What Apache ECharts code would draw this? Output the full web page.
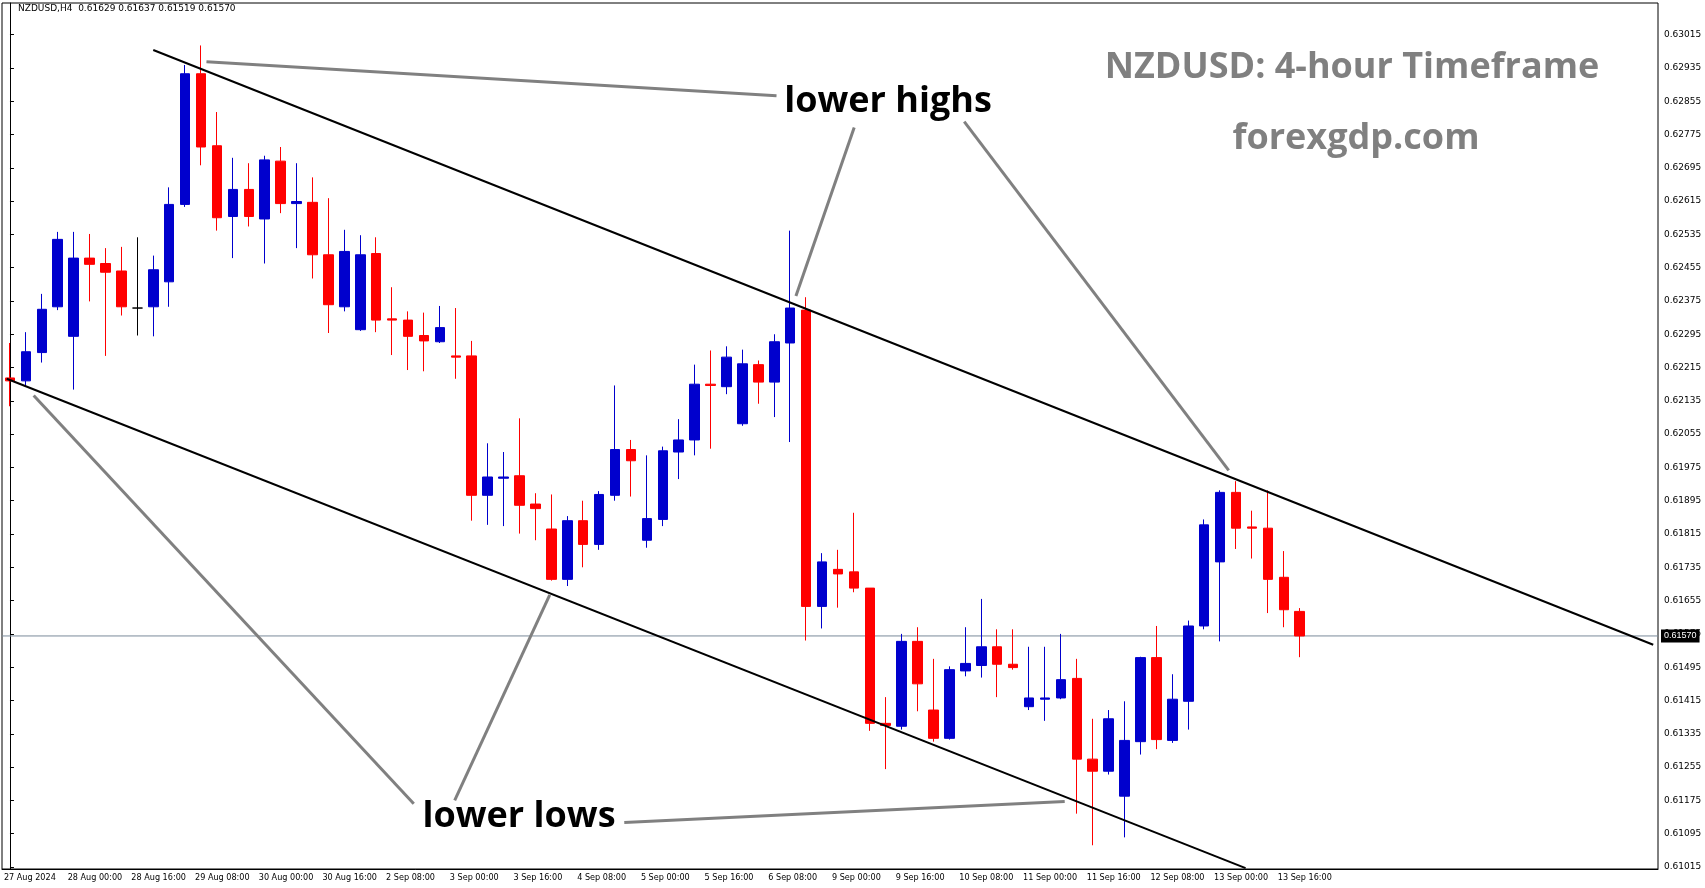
<!DOCTYPE html>
<html><head><meta charset="utf-8">
<script src="https://cdn.jsdelivr.net/npm/echarts@6/dist/echarts.min.js"></script>
<style>html,body{margin:0;padding:0;background:#fff}#c{width:1705px;height:888px}</style>
</head><body><div id="c"></div>
<script>
// tick labels on time axis (every 4 bars of 4 hours)
const timeTickLabels = ["27 Aug 2024","28 Aug 00:00","28 Aug 16:00","29 Aug 08:00","30 Aug 00:00","30 Aug 16:00","2 Sep 08:00","3 Sep 00:00","3 Sep 16:00","4 Sep 08:00","5 Sep 00:00","5 Sep 16:00","6 Sep 08:00","9 Sep 00:00","9 Sep 16:00","10 Sep 08:00","11 Sep 00:00","11 Sep 16:00","12 Sep 08:00","13 Sep 00:00","13 Sep 16:00"];
const priceTickLabels = ["0.61015","0.61095","0.61175","0.61255","0.61335","0.61415","0.61495","0.61575","0.61655","0.61735","0.61815","0.61895","0.61975","0.62055","0.62135","0.62215","0.62295","0.62375","0.62455","0.62535","0.62615","0.62695","0.62775","0.62855","0.62935","0.63015"];
// candles: [open, close, low, high]
const candles = [
[0.62190,0.62183,0.62122,0.62274],[0.62183,0.62253,0.62169,0.62300],[0.62251,0.62355,0.62227,0.62392],[0.62361,0.62523,0.62353,0.62541],
[0.62290,0.62478,0.62162,0.62541],[0.62478,0.62463,0.62374,0.62536],[0.62465,0.62444,0.62243,0.62502],[0.62447,0.62361,0.62340,0.62505],
[0.62358,0.62358,0.62292,0.62528],[0.62361,0.62450,0.62290,0.62484],[0.62421,0.62607,0.62361,0.62648],[0.62607,0.62921,0.62601,0.62942],
[0.62921,0.62745,0.62701,0.62989],[0.62748,0.62575,0.62544,0.62829],[0.62578,0.62643,0.62478,0.62719],[0.62643,0.62578,0.62554,0.62706],
[0.62572,0.62714,0.62465,0.62724],[0.62711,0.62609,0.62586,0.62745],[0.62609,0.62614,0.62502,0.62706],[0.62612,0.62486,0.62429,0.62672],
[0.62486,0.62366,0.62298,0.62622],[0.62361,0.62494,0.62350,0.62546],[0.62306,0.62486,0.62303,0.62533],[0.62489,0.62329,0.62300,0.62528],
[0.62332,0.62329,0.62245,0.62408],[0.62329,0.62290,0.62209,0.62350],[0.62292,0.62279,0.62206,0.62347],[0.62277,0.62311,0.62274,0.62363],
[0.62243,0.62240,0.62188,0.62358],[0.62243,0.61908,0.61847,0.62279],[0.61908,0.61952,0.61837,0.62033],[0.61949,0.61952,0.61834,0.62012],
[0.61955,0.61884,0.61816,0.62093],[0.61887,0.61876,0.61800,0.61913],[0.61827,0.61706,0.61703,0.61910],[0.61706,0.61847,0.61690,0.61858],
[0.61847,0.61790,0.61735,0.61895],[0.61790,0.61910,0.61777,0.61918],[0.61908,0.62018,0.61895,0.62172],[0.62018,0.61991,0.61905,0.62041],
[0.61800,0.61852,0.61782,0.62004],[0.61850,0.62015,0.61834,0.62025],[0.62012,0.62041,0.61947,0.62091],[0.62041,0.62175,0.62004,0.62222],
[0.62175,0.62172,0.62020,0.62256],[0.62169,0.62240,0.62151,0.62266],[0.62080,0.62224,0.62075,0.62258],[0.62222,0.62180,0.62128,0.62232],
[0.62180,0.62277,0.62096,0.62295],[0.62274,0.62358,0.62036,0.62544],[0.62353,0.61641,0.61559,0.62384],[0.61641,0.61748,0.61588,0.61769],
[0.61730,0.61719,0.61638,0.61777],[0.61724,0.61685,0.61675,0.61866],[0.61685,0.61360,0.61342,0.61685],[0.61360,0.61355,0.61250,0.61423],
[0.61353,0.61557,0.61345,0.61575],[0.61557,0.61455,0.61389,0.61591],[0.61392,0.61324,0.61316,0.61515],[0.61324,0.61489,0.61321,0.61497],
[0.61486,0.61504,0.61473,0.61591],[0.61499,0.61544,0.61470,0.61659],[0.61544,0.61502,0.61423,0.61586],[0.61502,0.61494,0.61489,0.61586],
[0.61400,0.61421,0.61392,0.61544],[0.61418,0.61421,0.61366,0.61544],[0.61421,0.61465,0.61418,0.61575],[0.61468,0.61274,0.61143,0.61515],
[0.61274,0.61245,0.61067,0.61371],[0.61245,0.61371,0.61237,0.61392],[0.61185,0.61319,0.61086,0.61413],[0.61316,0.61518,0.61285,0.61520],
[0.61518,0.61321,0.61298,0.61594],[0.61319,0.61418,0.61313,0.61478],[0.61413,0.61594,0.61345,0.61607],[0.61594,0.61837,0.61586,0.61850],
[0.61748,0.61915,0.61557,0.61920],[0.61915,0.61829,0.61779,0.61942],[0.61832,0.61829,0.61756,0.61871],[0.61829,0.61706,0.61625,0.61920],
[0.61711,0.61633,0.61591,0.61774],[0.61629,0.61570,0.61519,0.61637]
];
const dojiIndex = [8];
const emptyBars = 22;
const currentPrice = 0.61570;
// channel lines: [barIndex, price]
const upperChannel = [[9.0,0.62978],[103.2,0.61549]];
const lowerChannel = [[-0.2,0.62188],[77.6,0.61012]];
// grey pointer lines
const pointers = [
 [[12.34,0.62950],[48.14,0.62868]],
 [[53.02,0.62792],[49.36,0.62387]],
 [[59.93,0.62806],[76.54,0.61968]],
 [[1.49,0.62148],[25.36,0.61167]],
 [[27.93,0.61175],[33.90,0.61669]],
 [[38.58,0.61122],[66.24,0.61172]]
];

const N = candles.length + emptyBars;
const categories = [];
for (let i = 0; i < N; i++) categories.push(i % 4 === 0 && timeTickLabels[i/4] ? timeTickLabels[i/4] : '');
const candleData = candles.map((c, i) => dojiIndex.includes(i)
  ? {value: c, itemStyle: {color: '#000', color0: '#000', borderColor: '#000', borderColor0: '#000'}}
  : c);

const lineSeries = (pts, color, width) => ({
  type: 'line', xAxisIndex: 1, yAxisIndex: 0, data: pts, symbol: 'none', silent: true,
  lineStyle: {color: color, width: width}, z: 5, animation: false
});

const chart = echarts.init(document.getElementById('c'));
chart.setOption({
  animation: false,
  grid: {left: 2, right: 47, top: 3, bottom: 19, show: true, borderColor: '#000', borderWidth: 1},
  xAxis: [{
    type: 'category', data: categories, boundaryGap: true,
    axisLine: {lineStyle: {color: '#000'}},
    axisTick: {interval: 3, length: 4, lineStyle: {color: '#000'}, alignWithLabel: true},
    axisLabel: {interval: 3, align: 'left', color: '#000', fontSize: 9, fontFamily: 'DejaVu Sans Condensed, DejaVu Sans', margin: 4, padding: [0, 0, 0, -6]},
    splitLine: {show: false}
  }, {
    type: 'value', min: -0.5, max: N - 0.5, show: false
  }],
  yAxis: {
    type: 'value', position: 'right', min: 0.61010, max: 0.63091, scale: true,
    axisLine: {show: true, lineStyle: {color: '#000'}},
    axisTick: {show: true, length: 4, customValues: priceTickLabels.map(Number), lineStyle: {color: '#000'}},
    axisLabel: {customValues: priceTickLabels.map(Number), formatter: v => v.toFixed(5), color: '#000', fontSize: 9, fontFamily: 'DejaVu Sans', margin: 6},
    splitLine: {show: false}
  },
  series: [
    {
      type: 'line', xAxisIndex: 1, yAxisIndex: 0, symbol: 'none', silent: true, z: 1,
      data: [[-0.5, currentPrice], [N - 0.5, currentPrice]],
      lineStyle: {color: '#7a8a9a', width: 1},
      endLabel: {show: true, formatter: currentPrice.toFixed(5), backgroundColor: '#000', color: '#fff', fontSize: 9, padding: [2, 3], distance: 3}
    },
    {
      type: 'candlestick', data: candleData, barWidth: 10, z: 3,
      itemStyle: {color: '#0000CD', color0: '#FF0000', borderColor: '#0000CD', borderColor0: '#FF0000', borderWidth: 1}
    },
    lineSeries(upperChannel, '#000', 2),
    lineSeries(lowerChannel, '#000', 2),
    ...pointers.map(p => lineSeries(p, '#808080', 3))
  ],
  graphic: [
    {type: 'text', style: {x: 18, y: 4, text: 'NZDUSD,H4  0.61629 0.61637 0.61519 0.61570', fontSize: 9, fill: '#000', fontFamily: 'DejaVu Sans'}},
    {type: 'text', style: {x: 888, y: 102, text: 'lower highs', font: 'bold 36px "Open Sans", sans-serif', fill: '#000', align: 'center', verticalAlign: 'middle'}},
    {type: 'text', style: {x: 519, y: 817, text: 'lower lows', font: 'bold 36px "Open Sans", sans-serif', fill: '#000', align: 'center', verticalAlign: 'middle'}},
    {type: 'text', style: {x: 1352, y: 68, text: 'NZDUSD: 4-hour Timeframe', font: 'bold 36px "Open Sans", sans-serif', fill: '#808080', align: 'center', verticalAlign: 'middle'}},
    {type: 'text', style: {x: 1356, y: 139, text: 'forexgdp.com', font: 'bold 36px "Open Sans", sans-serif', fill: '#808080', align: 'center', verticalAlign: 'middle'}}
  ]
});
</script></body></html>
